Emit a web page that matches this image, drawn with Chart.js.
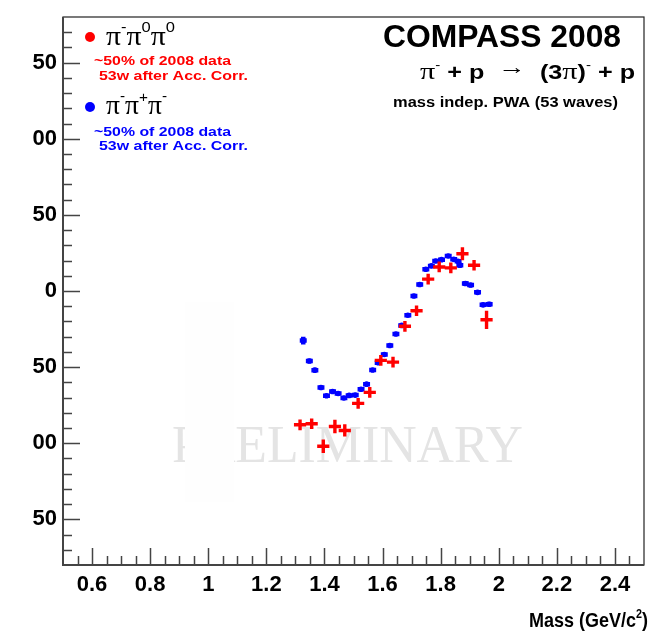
<!DOCTYPE html>
<html>
<head>
<meta charset="utf-8">
<title>COMPASS 2008</title>
<script src="https://cdn.jsdelivr.net/npm/chart.js@4.4.1/dist/chart.umd.min.js"></script>
<style>
  html, body { margin: 0; padding: 0; background: #fff; }
  canvas { display: block; }
</style>
</head>
<body>
<canvas id="phaseChart" width="661" height="634"></canvas>
<script>
// pi- pi0 pi0 (red crosses)
const redMass = [1.316, 1.356, 1.396, 1.436, 1.470, 1.516, 1.556, 1.594, 1.636, 1.677, 1.717, 1.757, 1.795, 1.835, 1.875, 1.915, 1.958];
const redPhase = [-87.9, -87.2, -102, -89, -91.6, -73.8, -66.6, -45.6, -46.7, -23.2, -13, 7.8, 15.8, 15.2, 24.5, 16.9, -18.9];
const redErr = [3.5, 3.5, 4.5, 4.5, 4, 3.5, 3.5, 3.5, 3.5, 3.5, 3.5, 3.5, 3.5, 3.5, 4.3, 3.5, 6];

// pi- pi+ pi- (blue points)
const blueMass = [1.327, 1.348, 1.367, 1.388, 1.407, 1.428, 1.447, 1.467, 1.485, 1.506, 1.526, 1.545, 1.566, 1.585, 1.606, 1.625, 1.646,
                  1.666, 1.687, 1.708, 1.728, 1.749, 1.768, 1.783, 1.803, 1.826, 1.845, 1.860, 1.866, 1.885, 1.903, 1.927, 1.946, 1.967];
const bluePhase = [-32.6, -46, -52, -63.4, -68.8, -66, -67.3, -70.3, -68.6, -68.4, -64.5, -61.2, -51.9, -47.1, -41.7, -35.8, -28.2,
                   -22.6, -15.9, -3.3, 4.3, 14.3, 16.5, 19.7, 20.6, 23, 20.8, 19.5, 16.9, 4.9, 3.9, -0.9, -9.1, -8.7];
const blueErr = [2.6, 1.6, 1.6, 1, 1, 1, 1, 1, 1, 1, 1, 1, 1, 1, 1, 1, 1,
                 1, 1, 1, 1, 1, 1, 1, 1, 1.2, 1.2, 1.6, 1.6, 1.6, 1.6, 1.6, 1.6, 1.6];

// axis ticks and labels
const xTicks = [0.6, 0.8, 1.0, 1.2, 1.4, 1.6, 1.8, 2.0, 2.2, 2.4];
const xTickLabels = ['0.6', '0.8', '1', '1.2', '1.4', '1.6', '1.8', '2', '2.2', '2.4'];
const yTicks = [150, 100, 50, 0, -50, -100, -150];
const yTickLabels = ['50', '00', '50', '0', '50', '00', '50'];

const SANS = "'Liberation Sans', Arial, sans-serif";
const SERIF = "'Liberation Serif', 'Times New Roman', serif";

// texte etire a une largeur donnee (comme dans ROOT)
function fitText(ctx, txt, x, y, w, font, color) {
    ctx.font = font;
    const m = ctx.measureText(txt).width;
    ctx.save();
    ctx.translate(x, y);
    ctx.scale(w / m, 1);
    ctx.fillStyle = color;
    ctx.textAlign = 'left';
    ctx.textBaseline = 'alphabetic';
    ctx.fillText(txt, 0, 0);
    ctx.restore();
}

// morceaux de texte avec exposants: [texte, police, dy]
function richText(ctx, parts, x, y, w, color) {
    let total = 0;
    parts.forEach(p => { ctx.font = p[1]; p.w = ctx.measureText(p[0]).width; total += p.w; });
    const k = w ? w / total : 1;
    ctx.save();
    ctx.translate(x, y);
    ctx.scale(k, 1);
    ctx.fillStyle = color;
    ctx.textAlign = 'left';
    ctx.textBaseline = 'alphabetic';
    let cx = 0;
    parts.forEach(p => { ctx.font = p[1]; ctx.fillText(p[0], cx, p[2] || 0); cx += p.w; });
    ctx.restore();
}

const decorPlugin = {
    id: 'decor',
    beforeDatasetsDraw(chart) {
        const ctx = chart.ctx;
        // filigrane PRELIMINARY
        fitText(ctx, 'PRELIMINARY', 172, 462, 351, '53px ' + SERIF, '#e4e4e4');
        ctx.fillStyle = '#fefefe';
        ctx.fillRect(185, 302, 49, 200);
    },
    afterDatasetsDraw(chart) {
        const ctx = chart.ctx;
        const { x, y } = chart.scales;
        // barres d'erreur / croix
        chart.data.datasets.forEach(ds => {
            ctx.save();
            ctx.strokeStyle = ds.borderColor;
            ctx.lineWidth = ds.barWidth;
            ctx.lineCap = 'butt';
            ds.data.forEach((p, i) => {
                const px = x.getPixelForValue(p.x);
                const py = y.getPixelForValue(p.y);
                ctx.beginPath();
                ctx.moveTo(x.getPixelForValue(p.x - ds.xErr), py);
                ctx.lineTo(x.getPixelForValue(p.x + ds.xErr), py);
                ctx.moveTo(px, y.getPixelForValue(p.y - ds.yErr[i]));
                ctx.lineTo(px, y.getPixelForValue(p.y + ds.yErr[i]));
                ctx.stroke();
            });
            ctx.restore();
        });
    },
    afterDraw(chart) {
        const ctx = chart.ctx;
        const a = chart.chartArea;
        const { x, y } = chart.scales;

        // cadre
        ctx.save();
        ctx.strokeStyle = '#222';
        ctx.lineWidth = 1.2;
        ctx.strokeRect(a.left, a.top, a.right - a.left, a.bottom - a.top);
        ctx.strokeStyle = '#444';
        ctx.lineWidth = 2;
        ctx.beginPath();
        ctx.moveTo(a.left, a.top); ctx.lineTo(a.left, a.bottom); ctx.lineTo(a.right, a.bottom);
        ctx.stroke();

        // graduations vers l'interieur
        ctx.lineWidth = 1.5;
        ctx.beginPath();
        for (let v = -170; v <= 170; v += 10) {
            const py = Math.round(y.getPixelForValue(v)) + 0.5;
            const len = (v % 50 === 0) ? 17 : 9;
            ctx.moveTo(a.left, py); ctx.lineTo(a.left + len, py);
        }
        for (let k = 1; k <= 39; k++) {
            const v = 0.5 + k * 0.05;
            const px = Math.round(x.getPixelForValue(v)) + 0.5;
            const len = (k % 4 === 2) ? 17 : 9;
            ctx.moveTo(px, a.bottom); ctx.lineTo(px, a.bottom - len);
        }
        ctx.stroke();
        ctx.restore();

        // titre de l'axe x
        richText(ctx, [
            ['Mass (GeV/c', 'bold 20px ' + SANS, 0],
            ['2', 'bold 12px ' + SANS, -9],
            [')', 'bold 20px ' + SANS, 0]
        ], 529, 627, 119, '#000');

        // legende
        ctx.fillStyle = '#ff0000';
        ctx.beginPath(); ctx.arc(90, 37, 5, 0, Math.PI * 2); ctx.fill();
        ctx.fillStyle = '#0000ff';
        ctx.beginPath(); ctx.arc(90, 107, 5, 0, Math.PI * 2); ctx.fill();

        richText(ctx, [
            ['\u03c0', '27px ' + SERIF, 0], ['-', '15px ' + SANS, -13],
            ['\u03c0', '27px ' + SERIF, 0], ['0', '15px ' + SANS, -13],
            ['\u03c0', '27px ' + SERIF, 0], ['0', '15px ' + SANS, -13]
        ], 106, 45, 69, '#000');
        fitText(ctx, '~50% of 2008 data', 94, 65, 137, 'bold 13px ' + SANS, '#ff0000');
        fitText(ctx, '53w after Acc. Corr.', 99, 80, 149, 'bold 13px ' + SANS, '#ff0000');

        richText(ctx, [
            ['\u03c0', '27px ' + SERIF, 0], ['-', '15px ' + SANS, -13],
            ['\u03c0', '27px ' + SERIF, 0], ['+', '15px ' + SANS, -12],
            ['\u03c0', '27px ' + SERIF, 0], ['-', '15px ' + SANS, -13]
        ], 106, 114, 61, '#000');
        fitText(ctx, '~50% of 2008 data', 94, 136, 137, 'bold 13px ' + SANS, '#0000ff');
        fitText(ctx, '53w after Acc. Corr.', 99, 150, 149, 'bold 13px ' + SANS, '#0000ff');

        // bloc en haut a droite
        fitText(ctx, 'COMPASS 2008', 383, 47, 238, 'bold 32px ' + SANS, '#000');
        richText(ctx, [
            ['\u03c0', '24px ' + SERIF, 0], ['-', '12px ' + SANS, -10],
            [' + p  ', 'bold 20px ' + SANS, 0],
            ['\u2192', '22px ' + SERIF, -5],
            ['  (3', 'bold 20px ' + SANS, 0], ['\u03c0', '24px ' + SERIF, 0], [')', 'bold 20px ' + SANS, 0],
            ['-', '12px ' + SANS, -10],
            [' + p', 'bold 20px ' + SANS, 0]
        ], 420, 79, 215, '#000');
        fitText(ctx, 'mass indep. PWA (53 waves)', 393, 107, 225, 'bold 14px ' + SANS, '#000');
    }
};

const ctx = document.getElementById('phaseChart').getContext('2d');
new Chart(ctx, {
    type: 'scatter',
    data: {
        datasets: [
            {
                label: '\u03c0-\u03c0+\u03c0-',
                data: blueMass.map((m, i) => ({ x: m, y: bluePhase[i] })),
                pointStyle: 'circle',
                pointRadius: 2.8,
                backgroundColor: '#0000ff',
                borderColor: '#0000ff',
                borderWidth: 0,
                xErr: 0.012,
                yErr: blueErr,
                barWidth: 4.5
            },
            {
                label: '\u03c0-\u03c00\u03c00',
                data: redMass.map((m, i) => ({ x: m, y: redPhase[i] })),
                pointRadius: 0,
                backgroundColor: '#ff0000',
                borderColor: '#ff0000',
                xErr: 0.021,
                yErr: redErr,
                barWidth: 3.4
            }
        ]
    },
    options: {
        responsive: false,
        animation: false,
        events: [],
        layout: { padding: { left: 23, top: 12, right: 17, bottom: 19 } },
        plugins: {
            legend: { display: false },
            tooltip: { enabled: false }
        },
        scales: {
            x: {
                type: 'linear',
                min: 0.5,
                max: 2.5,
                grid: { display: false, drawTicks: false },
                border: { display: false },
                afterBuildTicks: s => { s.ticks = xTicks.map(v => ({ value: v })); },
                afterFit: s => { s.height = 50; },
                ticks: {
                    callback: (v, i) => xTickLabels[i],
                    font: { family: SANS, weight: 'bold', size: 22 },
                    color: '#000',
                    padding: 7,
                    maxRotation: 0,
                    autoSkip: false
                }
            },
            y: {
                type: 'linear',
                min: -180,
                max: 180,
                grid: { display: false, drawTicks: false },
                border: { display: false },
                afterBuildTicks: s => { s.ticks = yTicks.map(v => ({ value: v })); },
                afterFit: s => { s.width = 40; },
                ticks: {
                    callback: (v, i, ticks) => yTickLabels[yTicks.indexOf(ticks[i].value)],
                    font: { family: SANS, weight: 'bold', size: 22, lineHeight: 1 },
                    color: '#000',
                    padding: 6,
                    autoSkip: false
                }
            }
        }
    },
    plugins: [decorPlugin]
});
</script>
</body>
</html>
